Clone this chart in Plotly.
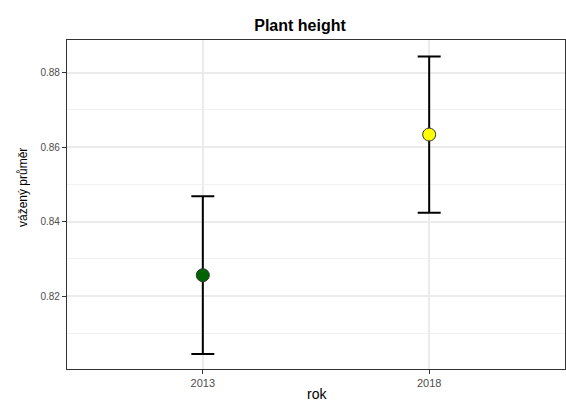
import plotly.graph_objects as go

years = ["2013", "2018"]
means = [0.8256, 0.8634]
errors = [0.0212, 0.0210]
colors = ["#006400", "#FFFF00"]
y_ticks = [0.82, 0.84, 0.86, 0.88]
y_minor = [0.81, 0.83, 0.85, 0.87]

xpos = list(range(1, len(years) + 1))

W, H = 566, 403
L, R, T, B = 67, 1, 40, 34
pw, ph = W - L - R, H - T - B

fig = go.Figure()
fig.add_trace(go.Scatter(
    x=xpos, y=means, mode="markers",
    error_y=dict(type="data", array=errors, visible=True, color="black", thickness=2, width=11.5),
    marker=dict(size=13, color=colors, line=dict(color="#333333", width=1)),
    showlegend=False,
))

fig.update_layout(
    width=W, height=H,
    margin=dict(l=L, r=R, t=T, b=B, autoexpand=False),
    paper_bgcolor="white", plot_bgcolor="white",
    font=dict(family="Liberation Sans, Arial, sans-serif"),
    title=dict(text="<b>Plant height</b>", x=300 / W, xanchor="center",
               y=1 - 25 / H, yanchor="middle", font=dict(size=16, color="black")),
    annotations=[
        dict(text="vážený průměr", textangle=-90, showarrow=False,
             xref="paper", yref="paper", x=(23 - L) / pw, y=(H - B - 188) / ph,
             xanchor="center", yanchor="middle", font=dict(size=12, color="black")),
        dict(text="rok", showarrow=False, borderpad=0,
             xref="paper", yref="paper", x=(317 - L) / pw, y=(H - B - 394) / ph,
             xanchor="center", yanchor="middle", font=dict(size=14, color="black")),
    ],
)
fig.update_xaxes(
    range=[0.4, 2.6], tickvals=xpos, ticktext=years,
    showgrid=True, gridcolor="#EBEBEB", gridwidth=1.5,
    showline=True, linecolor="#333333", linewidth=1.2, mirror=True,
    ticks="outside", ticklen=4, tickcolor="#333333",
    tickfont=dict(size=11, color="#4D4D4D"),
    zeroline=False, automargin=False,
)
fig.update_yaxes(
    range=[0.8004, 0.8888], tickvals=y_ticks, ticktext=[f"{v:.2f}" for v in y_ticks],
    showgrid=True, gridcolor="#EBEBEB", gridwidth=1.5,
    minor=dict(tickvals=y_minor, showgrid=True, gridcolor="#F2F2F2", gridwidth=1),
    showline=True, linecolor="#333333", linewidth=1.2, mirror=True,
    ticks="outside", ticklen=4, tickcolor="#333333",
    tickfont=dict(size=10, color="#4D4D4D"),
    zeroline=False, automargin=False,
)

fig.write_html("out.html", config={"displayModeBar": False},
               post_script="document.body.style.margin='0';document.body.style.overflow='hidden';")
